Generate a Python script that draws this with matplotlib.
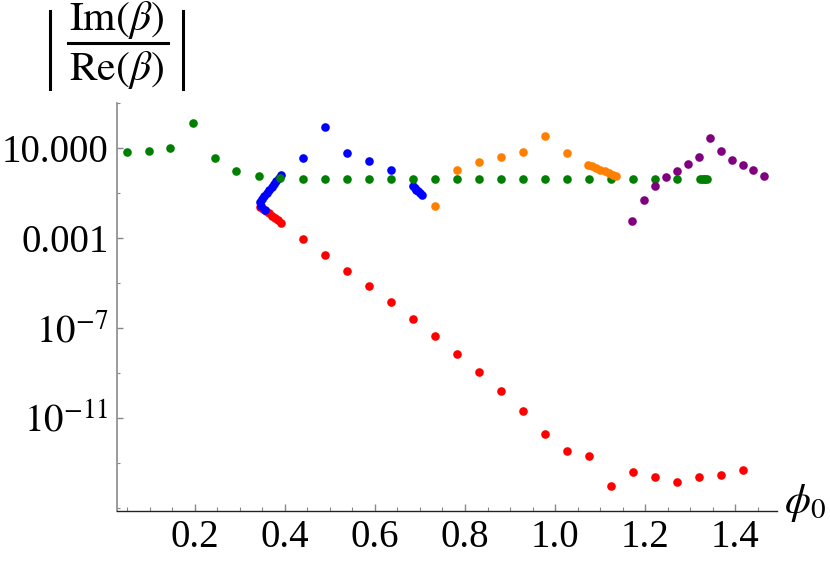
import matplotlib
matplotlib.use("Agg")
import matplotlib.pyplot as plt
from matplotlib.lines import Line2D
from matplotlib.ticker import FixedLocator, FixedFormatter

plt.rcParams['font.family'] = ['Liberation Serif', 'DejaVu Serif']
plt.rcParams['mathtext.fontset'] = 'stix'

# ---------------- data ----------------
red_phi = [0.344, 0.351, 0.358, 0.364, 0.371, 0.378, 0.384, 0.391,
           0.439, 0.488, 0.537, 0.586, 0.635, 0.684, 0.733, 0.782, 0.830,
           0.879, 0.928, 0.977, 1.026, 1.075, 1.124, 1.173, 1.222, 1.270,
           1.319, 1.368, 1.417]
red_val = [2.5e-2, 2.0e-2, 1.6e-2, 1.26e-2, 1.0e-2, 7.9e-3, 6.3e-3, 4.9e-3,
           8.7e-4, 1.8e-4, 3.6e-5, 7.1e-6, 1.44e-6, 2.6e-7, 4.4e-8, 6.9e-9, 1.1e-9,
           1.6e-10, 2.1e-11, 1.95e-12, 3.4e-13, 2.1e-13, 1.0e-14, 4.1e-14, 2.4e-14, 1.43e-14,
           2.4e-14, 3.0e-14, 5.0e-14]

blue_phi = [0.356, 0.347, 0.344, 0.348, 0.353, 0.359, 0.365, 0.371, 0.376,
            0.381, 0.386, 0.391,
            0.439, 0.489, 0.537, 0.586, 0.635,
            0.684, 0.688, 0.692, 0.696, 0.700, 0.704]
blue_val = [1.8e-2, 2.8e-2, 4.1e-2, 5.6e-2, 7.6e-2, 0.102, 0.141, 0.19, 0.26,
            0.355, 0.48, 0.65,
            3.7, 85.7, 6.2, 2.73, 1.05,
            0.196, 0.165, 0.14, 0.118, 0.10, 0.084]

green_phi = [0.048, 0.098, 0.145, 0.195, 0.244, 0.292, 0.342, 0.390, 0.439,
             0.488, 0.537, 0.586, 0.635, 0.684, 0.733, 0.782, 0.830, 0.879,
             0.928, 0.977, 1.026, 1.075, 1.124, 1.173, 1.222, 1.270,
             1.322, 1.326, 1.330, 1.334, 1.338]
green_val = [6.6, 7.36, 9.55, 128.8, 3.6, 0.912, 0.55, 0.447, 0.437,
             0.437, 0.437, 0.437, 0.437, 0.437, 0.437, 0.437, 0.437, 0.437,
             0.437, 0.437, 0.437, 0.437, 0.437, 0.437, 0.437, 0.437,
             0.437, 0.437, 0.437, 0.437, 0.437]

orange_phi = [0.733, 0.782, 0.830, 0.879, 0.928, 0.977, 1.026,
              1.074, 1.083, 1.092, 1.101, 1.110, 1.119, 1.128, 1.136]
orange_val = [0.0254, 1.01, 2.29, 3.98, 6.85, 35.2, 6.17,
              1.81, 1.53, 1.29, 1.08, 0.91, 0.77, 0.65, 0.55]

purple_phi = [1.172, 1.197, 1.222, 1.246, 1.270, 1.295, 1.319, 1.344,
              1.368, 1.393, 1.417, 1.441, 1.464]
purple_val = [5.9e-3, 5.0e-2, 0.211, 0.514, 0.98, 1.95, 4.1, 27.8,
              7.06, 3.02, 1.69, 1.01, 0.587]

x_major = [0.2, 0.4, 0.6, 0.8, 1.0, 1.2, 1.4]
x_labels = ['0.2', '0.4', '0.6', '0.8', '1.0', '1.2', '1.4']
x_minor = [0.05, 0.1, 0.15, 0.25, 0.3, 0.35, 0.45, 0.5, 0.55, 0.65, 0.7, 0.75,
           0.85, 0.9, 0.95, 1.05, 1.1, 1.15, 1.25, 1.3, 1.35, 1.45]
y_major = [1e1, 1e-3, 1e-7, 1e-11]
y_labels = ['10.000', '0.001', r'$10^{-7}$', r'$10^{-11}$']
y_minor = [1e3, 1e-1, 1e-5, 1e-9, 1e-13, 1e-15]

# ---------------- figure ----------------
W, H = 830, 561
fig = plt.figure(figsize=(W / 100, H / 100), dpi=100)
ax = fig.add_axes([117 / W, 1 - 511 / H, 660 / W, 408 / H])
ax.set_yscale('log')
ax.set_xlim(0.0267, 1.4933)
ax.set_ylim(10 ** -15.12, 1e3)

ms = 6.2
series = [(red_phi, red_val, '#ff0000', 2),
          (blue_phi, blue_val, '#0000ff', 3),
          (green_phi, green_val, '#008000', 4),
          (orange_phi, orange_val, '#ff8000', 5),
          (purple_phi, purple_val, '#800080', 6)]
for xs, ys, c, z in series:
    ax.plot(xs, ys, linestyle='none', marker='o', markersize=ms,
            markerfacecolor=c, markeredgewidth=0, zorder=z, clip_on=False)

for s in ['top', 'right']:
    ax.spines[s].set_visible(False)
ax.spines['left'].set_color('#8a8a8a')
ax.spines['left'].set_linewidth(1.2)
ax.spines['bottom'].set_color('#222222')
ax.spines['bottom'].set_linewidth(1.0)

ax.xaxis.set_major_locator(FixedLocator(x_major))
ax.xaxis.set_major_formatter(FixedFormatter(x_labels))
ax.xaxis.set_minor_locator(FixedLocator(x_minor))
ax.yaxis.set_major_locator(FixedLocator(y_major))
ax.yaxis.set_major_formatter(FixedFormatter(y_labels))
ax.yaxis.set_minor_locator(FixedLocator(y_minor))
ax.yaxis.set_minor_formatter(FixedFormatter([''] * len(y_minor)))

ax.tick_params(axis='x', which='major', direction='in', length=5, width=1,
               color='#888888', labelsize=28, pad=6)
ax.tick_params(axis='x', which='minor', direction='in', length=3, width=0.8,
               color='#888888')
ax.tick_params(axis='y', which='major', direction='in', length=4.5, width=1,
               color='#888888', labelsize=28, pad=6)
ax.tick_params(axis='y', which='minor', direction='in', length=2.5, width=0.8,
               color='#888888')

# y-axis label: |Im(beta)/Re(beta)| built from text pieces and thin lines
def fx(px):
    return px / W

def fy(py):
    return 1 - py / H

fig.text(fx(117), fy(20), r'$\mathrm{Im}(\beta)$', fontsize=30,
         ha='center', va='center')
fig.text(fx(117), fy(70), r'$\mathrm{Re}(\beta)$', fontsize=30,
         ha='center', va='center')
fig.add_artist(Line2D([fx(68), fx(168)], [fy(43), fy(43)],
                      transform=fig.transFigure, color='black', lw=2.2))
for bx in (50, 183):
    fig.add_artist(Line2D([fx(bx), fx(bx)], [fy(11), fy(89)],
                          transform=fig.transFigure, color='black', lw=2.2))

fig.text(fx(784), fy(503), r'$\phi_0$', fontsize=30, ha='left', va='center')

fig.savefig('out.png', dpi=100)
